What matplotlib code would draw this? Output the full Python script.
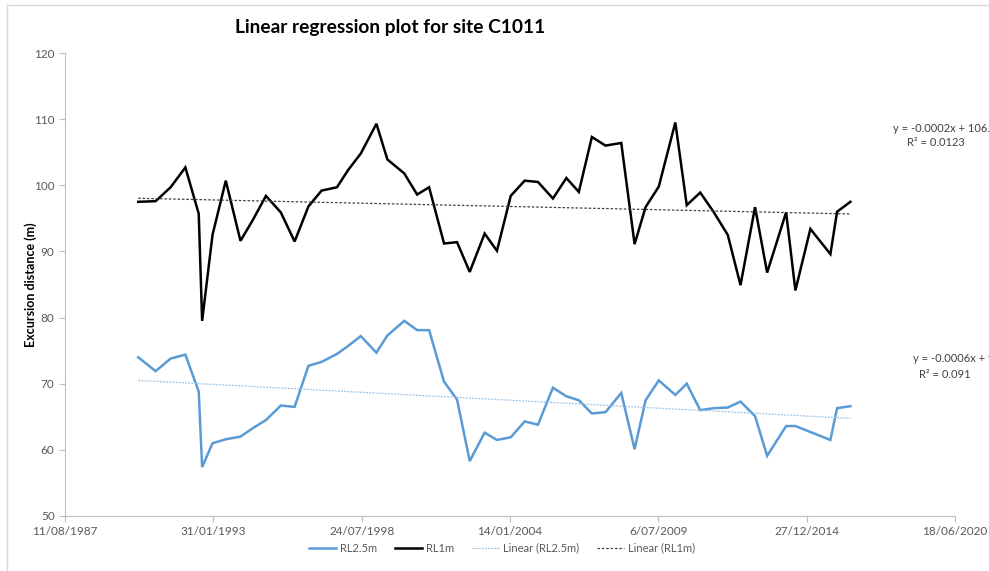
import numpy as np
import pandas as pd
import matplotlib
matplotlib.use('Agg')
from matplotlib import pyplot as plt
import matplotlib.dates as mdates
from matplotlib.lines import Line2D

plt.rcParams['font.family'] = ['Lato', 'DejaVu Sans']

# survey dates (approx)
dates = ['1990-04-24', '1990-12-15', '1991-07-05', '1992-01-20', '1992-07-18', '1992-09-02',
         '1993-01-20', '1993-07-18', '1994-02-01', '1994-07-20', '1995-01-10', '1995-07-30',
         '1996-02-01', '1996-08-05', '1997-01-30', '1997-08-25', '1998-01-22', '1998-07-12',
         '1999-02-08', '1999-07-06', '2000-02-18', '2000-08-10', '2001-01-18', '2001-08-08',
         '2002-01-30', '2002-07-20', '2003-02-06', '2003-07-22', '2004-01-24', '2004-07-30',
         '2005-01-25', '2005-08-15', '2006-02-12', '2006-07-30', '2007-01-22', '2007-07-25',
         '2008-02-22', '2008-08-20', '2009-01-15', '2009-07-12', '2010-02-20', '2010-07-24',
         '2011-01-22', '2011-07-20', '2012-01-28', '2012-07-18', '2013-01-30', '2013-07-12',
         '2014-03-25', '2014-07-28', '2015-02-15', '2015-11-12', '2016-02-10', '2016-08-08']

rl1m = [97.5, 97.6, 99.7, 102.7, 95.7, 79.5, 92.5, 100.7, 91.6, 94.8, 98.4, 95.9,
        91.5, 96.8, 99.2, 99.7, 102.3, 104.8, 109.3, 103.9, 101.8, 98.6, 99.7, 91.2,
        91.4, 86.9, 92.7, 90.1, 98.4, 100.7, 100.5, 98.0, 101.1, 99.0, 107.3, 106.0,
        106.4, 91.1, 96.7, 99.8, 109.5, 97.0, 98.9, 96.0, 92.5, 84.9, 96.7, 86.8,
        95.9, 84.1, 93.4, 89.6, 96.0, 97.5]

rl25m = [74.0, 71.9, 73.8, 74.4, 68.8, 57.4, 61.0, 61.6, 62.0, 63.3, 64.5, 66.7,
         66.5, 72.7, 73.3, 74.5, 75.7, 77.2, 74.7, 77.3, 79.5, 78.1, 78.1, 70.3,
         67.6, 58.3, 62.6, 61.5, 61.9, 64.3, 63.8, 69.4, 68.1, 67.5, 65.5, 65.7,
         68.6, 60.1, 67.5, 70.5, 68.3, 70.0, 66.0, 66.3, 66.4, 67.3, 65.1, 59.1,
         63.6, 63.6, 62.7, 61.5, 66.3, 66.6]

tick_dates = ['1987-08-11', '1993-01-31', '1998-07-24', '2004-01-14',
              '2009-07-06', '2014-12-27', '2020-06-18']
eq_rl1m = 'y = -0.0002x + 106.18'
r2_rl1m = 'R\u00b2 = 0.0123'
eq_rl25m = 'y = -0.0006x + 90.94'
r2_rl25m = 'R\u00b2 = 0.091'

blue = '#5B9BD5'
grey = '#595959'
axcol = '#BFBFBF'

t = pd.to_datetime(dates)
xn = mdates.date2num(t)

fig = plt.figure(figsize=(9.89, 5.71), dpi=100)
ax = fig.add_axes([65/989, 1-516/571, 890/989, 463/571])

ax.plot(t, rl25m, color=blue, lw=1.8, solid_joinstyle='miter', label='RL2.5m')
ax.plot(t, rl1m, color='black', lw=1.8, solid_joinstyle='miter', label='RL1m')

# linear trend lines
p1 = np.polyfit(xn, rl1m, 1)
p2 = np.polyfit(xn, rl25m, 1)
xe = np.array([xn[0], xn[-1]])
ax.plot(mdates.num2date(xe), np.polyval(p2, xe), color='#9DC3E6', lw=0.9,
        ls=(0, (1.5, 1.0)), label='Linear (RL2.5m)')
ax.plot(mdates.num2date(xe), np.polyval(p1, xe), color='#404040', lw=0.9,
        ls=(0, (2, 1.5)), label='Linear (RL1m)')

tk = pd.to_datetime(tick_dates)
ax.set_xlim(tk[0], tk[-1])
ax.set_xticks(tk)
ax.set_xticklabels([f'{d.day}/{d.month:02d}/{d.year}' for d in tk])
ax.set_ylim(50, 120)
ax.set_yticks(range(50, 121, 10))

for s in ['top', 'right']:
    ax.spines[s].set_visible(False)
for s in ['left', 'bottom']:
    ax.spines[s].set_color(axcol)
    ax.spines[s].set_linewidth(0.8)
ax.tick_params(axis='both', colors=axcol, labelcolor=grey, labelsize=8.5, length=4, width=0.8)
ax.tick_params(axis='x', pad=3)

ax.set_ylabel('Excursion distance (m)', fontsize=9, fontweight='bold', color='black', labelpad=-2)

fig.text(390/989, 1-28/571, 'Linear regression plot for site C1011', ha='center', va='center',
         fontsize=13.8, fontweight='bold', color='black')

# trendline labels (cut off at the right edge, as in the original)
fig.text(893/989, 1-128/571, eq_rl1m, ha='left', va='center', fontsize=8, color='#404040')
fig.text(936/989, 1-143/571, r2_rl1m, ha='center', va='center', fontsize=8, color='#404040')
fig.text(913/989, 1-359/571, eq_rl25m, ha='left', va='center', fontsize=8, color='#404040')
fig.text(945/989, 1-374/571, r2_rl25m, ha='center', va='center', fontsize=8, color='#404040')

fig.legend(loc='center', bbox_to_anchor=(502/989, 1-548/571), ncol=4, frameon=False,
           fontsize=8, handlelength=2.4, columnspacing=1.6, handletextpad=0.4,
           labelcolor=grey)

# chart area border
fig.add_artist(Line2D([7/989, 7/989], [0, 1-5/571], transform=fig.transFigure, color='#D9D9D9', lw=1))
fig.add_artist(Line2D([7/989, 1], [1-5/571, 1-5/571], transform=fig.transFigure, color='#D9D9D9', lw=1))

fig.savefig('out.png', dpi=100)
